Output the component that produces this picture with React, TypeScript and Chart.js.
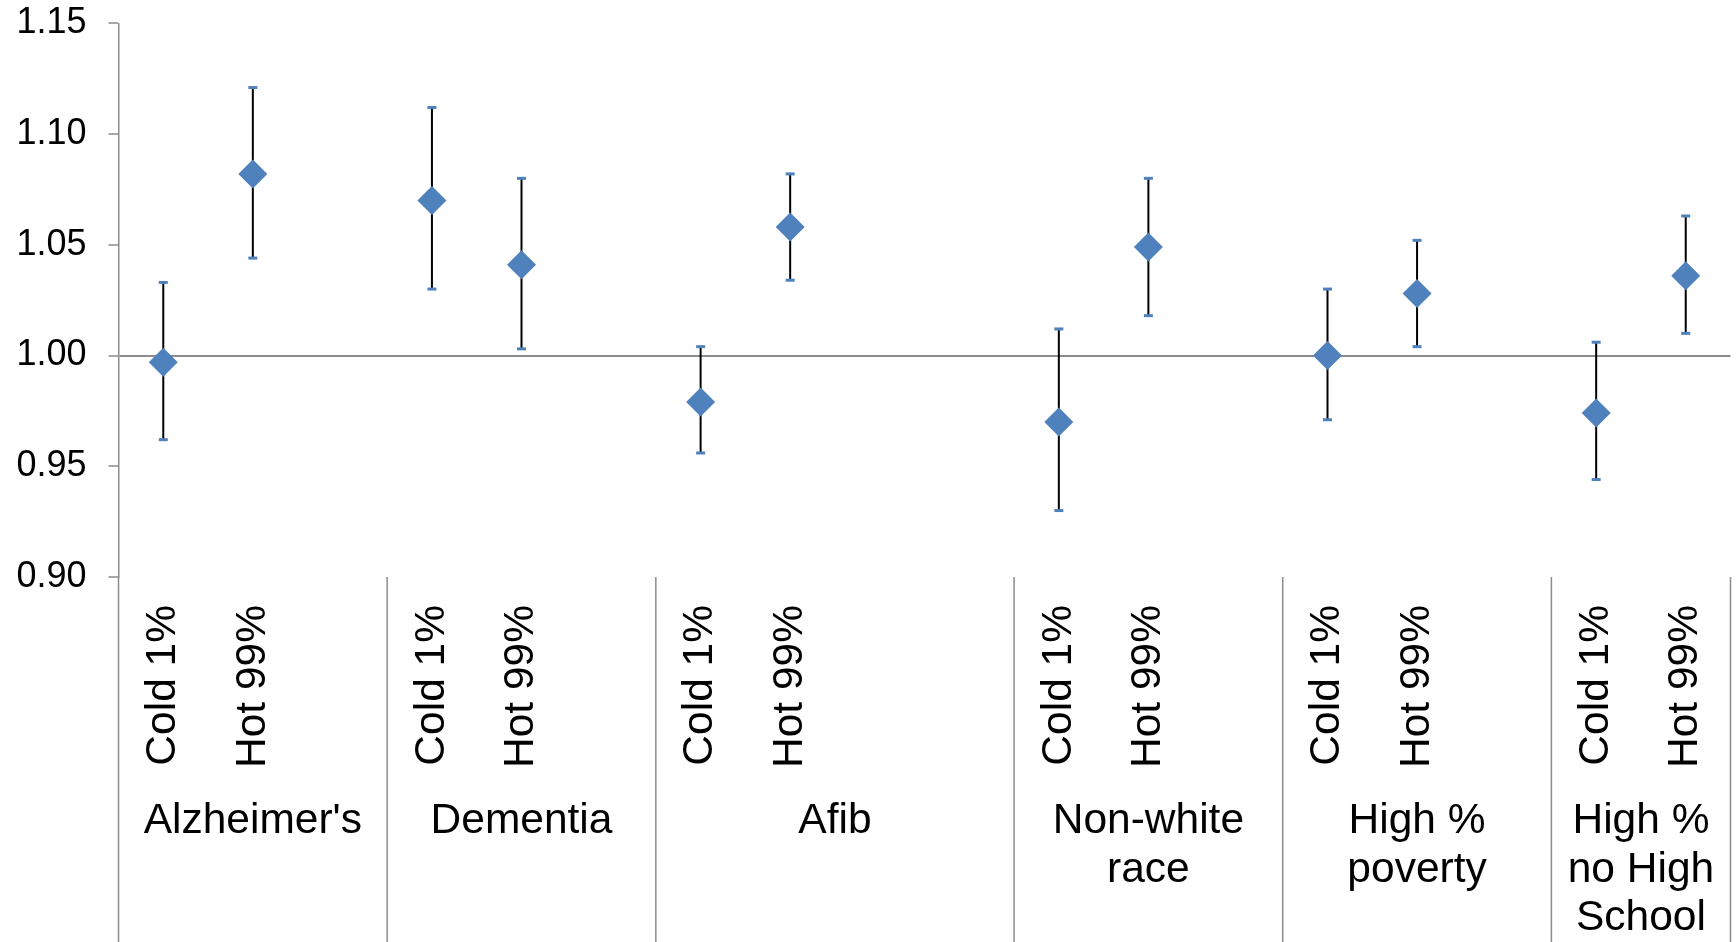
import React, { useEffect, useRef } from 'react';
import { Chart, registerables } from 'chart.js';

Chart.register(...registerables);

// ---- data ----
const categoryLabels = [
  'Cold 1%', 'Hot 99%', '',
  'Cold 1%', 'Hot 99%', '',
  'Cold 1%', 'Hot 99%', '', '',
  'Cold 1%', 'Hot 99%', '',
  'Cold 1%', 'Hot 99%', '',
  'Cold 1%', 'Hot 99%',
];
const estimates = [
  0.997, 1.082, null,
  1.070, 1.041, null,
  0.979, 1.058, null, null,
  0.970, 1.049, null,
  1.000, 1.028, null,
  0.974, 1.036,
];
const lowerCI = [
  0.962, 1.044, null,
  1.030, 1.003, null,
  0.956, 1.034, null, null,
  0.930, 1.018, null,
  0.971, 1.004, null,
  0.944, 1.010,
];
const upperCI = [
  1.033, 1.121, null,
  1.112, 1.080, null,
  1.004, 1.082, null, null,
  1.012, 1.080, null,
  1.030, 1.052, null,
  1.006, 1.063,
];
const groupLabels: (string | string[])[] = [
  "Alzheimer's",
  'Dementia',
  'Afib',
  ['Non-white', 'race'],
  ['High %', 'poverty'],
  ['High %', 'no High', 'School'],
];
const groupSizes = [3, 3, 4, 3, 3, 2];
const yTicks = [0.9, 0.95, 1.0, 1.05, 1.1, 1.15];

// derived group boundaries / centres (in category slots)
const groupBounds: number[] = [0];
groupSizes.forEach((s) => groupBounds.push(groupBounds[groupBounds.length - 1] + s));
const groupCenters = groupSizes.map((s, i) => groupBounds[i] + s / 2);

const FONT = "'Liberation Sans', Arial, sans-serif";
const BLUE = '#4F81BD';
const GRAY = '#8c8c8c';

const errorBarPlugin = {
  id: 'errorBars',
  beforeDatasetsDraw(chart: any) {
    const { ctx } = chart;
    const x = chart.scales.x;
    const y = chart.scales.y;
    ctx.save();
    estimates.forEach((v, i) => {
      if (v == null) return;
      const px = x.getPixelForValue(i);
      const top = y.getPixelForValue(upperCI[i] as number);
      const bot = y.getPixelForValue(lowerCI[i] as number);
      ctx.strokeStyle = '#000';
      ctx.lineWidth = 2;
      ctx.beginPath();
      ctx.moveTo(px, top);
      ctx.lineTo(px, bot);
      ctx.stroke();
      ctx.strokeStyle = BLUE;
      ctx.lineWidth = 3;
      [top, bot].forEach((py) => {
        ctx.beginPath();
        ctx.moveTo(px - 4.5, py);
        ctx.lineTo(px + 4.5, py);
        ctx.stroke();
      });
    });
    ctx.restore();
  },
};

const dividerPlugin = {
  id: 'groupDividers',
  afterDraw(chart: any) {
    const { ctx, chartArea } = chart;
    const x = chart.scales.x;
    ctx.save();
    ctx.strokeStyle = GRAY;
    ctx.lineWidth = 1.5;
    groupBounds.forEach((b) => {
      const px = x.getPixelForValue(b - 0.5);
      ctx.beginPath();
      ctx.moveTo(px, chartArea.bottom);
      ctx.lineTo(px, chart.height);
      ctx.stroke();
    });
    ctx.restore();
  },
};

const noPadH = (scale: any, h: number) => {
  scale.height = h;
  scale.paddingLeft = 0;
  scale.paddingRight = 0;
};

export default function App() {
  const ref = useRef<HTMLCanvasElement | null>(null);

  useEffect(() => {
    if (!ref.current) return;
    const chart = new Chart(ref.current, {
      type: 'line',
      data: {
        labels: categoryLabels,
        datasets: [
          {
            data: estimates as any,
            showLine: false,
            pointStyle: 'rectRot',
            pointRadius: 14.5,
            pointHoverRadius: 14.5,
            pointBackgroundColor: BLUE,
            pointBorderColor: BLUE,
            pointBorderWidth: 0,
            backgroundColor: BLUE,
            borderColor: BLUE,
            clip: false,
          },
        ],
      },
      options: {
        responsive: false,
        animation: false,
        events: [],
        layout: { autoPadding: false, padding: { top: 23.3, right: 5.5, left: 0, bottom: 0 } },
        plugins: {
          legend: { display: false },
          tooltip: { enabled: false },
          title: { display: false },
        },
        scales: {
          x: {
            type: 'category',
            position: 'bottom',
            offset: true,
            grid: { display: false },
            border: { display: false },
            ticks: {
              autoSkip: false,
              minRotation: 90,
              maxRotation: 90,
              padding: 20,
              color: '#000',
              font: { family: FONT, size: 42.5 },
            },
            afterFit: (scale: any) => noPadH(scale, 210),
          },
          xg: {
            type: 'linear',
            position: 'bottom',
            min: groupBounds[0],
            max: groupBounds[groupBounds.length - 1],
            grid: { display: false },
            border: { display: false },
            afterBuildTicks: (scale: any) => {
              scale.ticks = groupCenters.map((v) => ({ value: v }));
            },
            ticks: {
              autoSkip: false,
              maxRotation: 0,
              minRotation: 0,
              padding: 2.5,
              color: '#000',
              font: { family: FONT, size: 42.5, lineHeight: 48.5 / 42.5 },
              callback: (_v: any, i: number) => groupLabels[i],
            },
            afterFit: (scale: any) => noPadH(scale, 155),
          },
          y: {
            type: 'linear',
            min: yTicks[0],
            max: yTicks[yTicks.length - 1],
            afterBuildTicks: (scale: any) => {
              scale.ticks = yTicks.map((v) => ({ value: v }));
            },
            grid: {
              drawTicks: true,
              tickLength: 10,
              tickColor: GRAY,
              tickWidth: 1.5,
              lineWidth: 2,
              color: (ctx: any) =>
                ctx.tick && Math.abs(ctx.tick.value - 1) < 1e-6 ? GRAY : 'rgba(0,0,0,0)',
            },
            border: { display: true, color: GRAY, width: 1.5 },
            ticks: {
              padding: 22,
              color: '#000',
              font: { family: FONT, size: 36 },
              callback: (v: any) => Number(v).toFixed(2),
            },
            afterFit: (scale: any) => {
              scale.width = 118.5;
              scale.paddingTop = 0;
              scale.paddingBottom = 0;
            },
          },
        },
      },
      plugins: [errorBarPlugin, dividerPlugin],
    } as any);
    return () => chart.destroy();
  }, []);

  return (
    <div style={{ position: 'absolute', left: 0, top: 0, width: 1736, height: 942, background: '#fff' }}>
      <canvas ref={ref} width={1736} height={942} />
    </div>
  );
}
